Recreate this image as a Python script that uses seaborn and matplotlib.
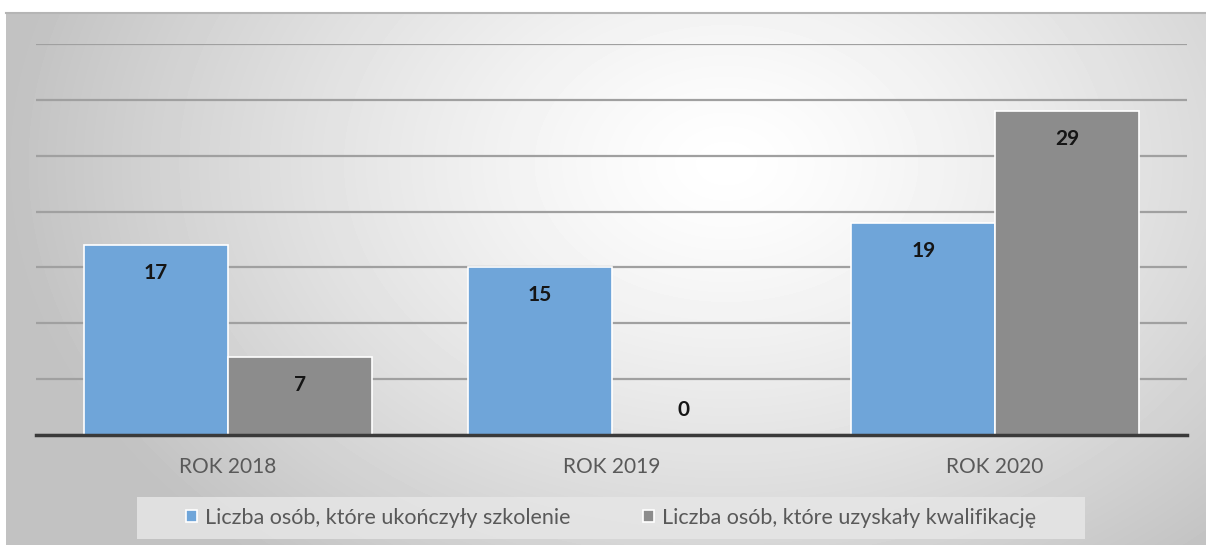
import numpy as np
import pandas as pd
import matplotlib.pyplot as plt
from matplotlib.patches import Rectangle
import seaborn as sns

# dane
lata = ["ROK 2018", "ROK 2019", "ROK 2020"]
seria_nazwy = ["Liczba osób, które ukończyły szkolenie",
               "Liczba osób, które uzyskały kwalifikację"]
ukonczyli = [17, 15, 19]
kwalifikacje = [7, 0, 29]

kolory = ["#6fa5d9", "#8c8c8c"]

df = pd.DataFrame({
    "rok": lata * 2,
    "seria": [seria_nazwy[0]] * 3 + [seria_nazwy[1]] * 3,
    "liczba": ukonczyli + kwalifikacje,
})

sns.set_theme(style="white")
plt.rcParams["font.family"] = ["Lato", "DejaVu Sans"]

W, H = 1206, 545
fig = plt.figure(figsize=(W / 100, H / 100), dpi=100)
fig.patch.set_facecolor("white")

# tlo z gradientem (obszar wykresu)
bg = fig.add_axes([6 / W, 0, 1 - 6 / W, 1 - 13 / H], zorder=0)
yy, xx = np.mgrid[0:532, 0:1200]
d = np.sqrt(((xx - 720) / 720.0) ** 2 + ((yy - 150) / 520.0) ** 2)
d = np.clip(d, 0, 1)
val = 1.0 - 0.24 * d ** 1.3
bg.imshow(val, cmap="gray", vmin=0, vmax=1, aspect="auto", interpolation="bilinear")
bg.set_xticks([])
bg.set_yticks([])
for s in ["left", "right", "bottom"]:
    bg.spines[s].set_visible(False)
bg.spines["top"].set_color("#b5b5b5")
bg.spines["top"].set_linewidth(1.5)

# tlo legendy
fig.patches.append(Rectangle((137 / W, 1 - 539 / H), (1085 - 137) / W, 42 / H,
                             transform=fig.transFigure, facecolor="#e6e6e6",
                             edgecolor="none", alpha=0.85, zorder=0.5))

ax = fig.add_axes([36 / W, (H - 435) / H, (1187 - 36) / W, (435 - 44) / H], zorder=1)
ax.patch.set_alpha(0)

sns.barplot(data=df, x="rok", y="liczba", hue="seria", palette=kolory,
            width=0.75, edgecolor="white", linewidth=1.2, saturation=1,
            ax=ax, legend=True)

ax.set_xlim(-0.5, 2.5)
ax.set_ylim(0, 35)
ax.set_yticks(range(0, 36, 5))
ax.yaxis.grid(True, color="#a0a0a0", linewidth=1.6)
ax.set_axisbelow(True)
ax.tick_params(axis="y", left=False, labelleft=False)
ax.tick_params(axis="x", bottom=False, labelsize=15, colors="#595959", pad=10)
ax.set_xlabel("")
ax.set_ylabel("")
for s in ["top", "right", "left"]:
    ax.spines[s].set_visible(False)
ax.spines["bottom"].set_color("#3a3a3a")
ax.spines["bottom"].set_linewidth(2.5)

# etykiety danych
for cont in ax.containers:
    for p in cont:
        h = p.get_height()
        off = -28 if h > 0 else 25
        ax.annotate(f"{h:.0f}", (p.get_x() + p.get_width() / 2, h),
                    xytext=(0, off), textcoords="offset pixels",
                    ha="center", va="center", fontsize=15, fontweight="bold",
                    color="#151515")

leg = ax.legend(loc="center", bbox_to_anchor=(611 / W, 1 - 518 / H),
                bbox_transform=fig.transFigure, ncol=2, fontsize=15.5,
                frameon=False, handlelength=0.5, handleheight=0.5,
                handletextpad=0.35, columnspacing=3.4)
for t in leg.get_texts():
    t.set_color("#595959")

fig.savefig("out.png", dpi=100)
